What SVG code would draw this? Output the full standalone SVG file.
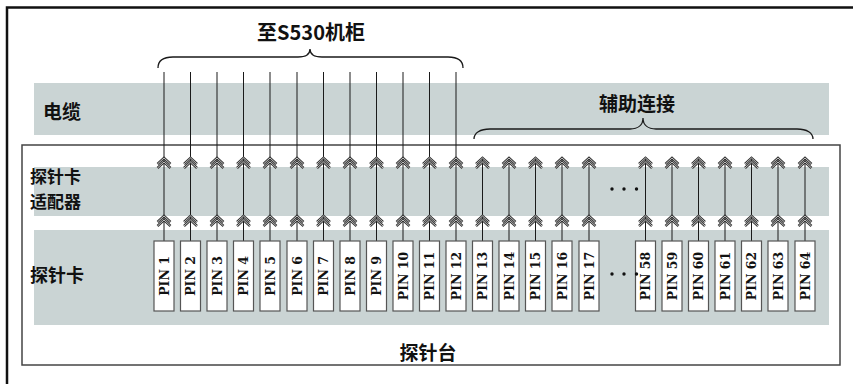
<svg xmlns="http://www.w3.org/2000/svg" xmlns:xlink="http://www.w3.org/1999/xlink" width="853" height="384" viewBox="0 0 853 384">
  <style>
    .band { fill: #cad4d4; }
    .lbl { font-family: "Noto Sans CJK SC", "Noto Sans", sans-serif; font-weight: bold; font-size: 19px; fill: #111; dominant-baseline: central; }
    .lbl2 { font-size: 18px; }
    .lbl3 { font-size: 17px; }
    .pinbox { fill: #fff; stroke: #555; stroke-width: 1.2; }
    .pintxt { font-family: "DejaVu Serif", "Liberation Serif", serif; font-weight: bold; font-size: 12.5px; fill: #111; text-anchor: middle; dominant-baseline: central; }
    .wire { stroke: #1a1a1a; stroke-width: 1; fill: none; }
    .brace { stroke: #1a1a1a; stroke-width: 1.3; fill: none; }
    .chev-o { stroke: #333; stroke-width: 2.4; fill: none; }
    .chev-i { stroke: #fff; stroke-width: 0.7; fill: none; }
    .dot { fill: #111; }
  </style>
  <defs>
    <g id="chev">
      <path class="chev-o" d="M-6.5,6 L0,0 L6.5,6 M-6.5,10 L0,4 L6.5,10"/>
      <path class="chev-i" d="M-6.5,6 L0,0 L6.5,6 M-6.5,10 L0,4 L6.5,10"/>
    </g>
  </defs>

  <!-- outer frame (partially visible) -->
  <path d="M7,384 L7,7.5 L853,7.5" fill="none" stroke="#111" stroke-width="2.5"/>

  <!-- inner frame: probe station -->
  <g id="probe-station">
    <rect x="22" y="145" width="818" height="220" fill="#fff" stroke="#444" stroke-width="1.5"/>
    <text class="lbl" x="428" y="351" text-anchor="middle">探针台</text>
  </g>

  <!-- bands -->
  <g id="cable-band">
    <rect class="band" x="34" y="83" width="795" height="52"/>
    <text class="lbl" x="43" y="110">电缆</text>
  </g>
  <g id="adapter-band">
    <rect class="band" x="34" y="167" width="795" height="49"/>
    <text class="lbl lbl3" x="30" y="175">探针卡</text>
    <text class="lbl lbl3" x="30" y="200">适配器</text>
  </g>
  <g id="card-band">
    <rect class="band" x="34" y="230" width="795" height="95"/>
    <text class="lbl lbl2" x="30" y="274">探针卡</text>
  </g>

  <!-- braces and labels -->
  <g id="to-s530">
    <path class="brace" d="M158,68 C158,61 163,57 173,57 L298,57 C306,57 310,54 310,49 C310,54 314,57 322,57 L448,57 C458,57 463,61 463,68"/>
    <text class="lbl" x="311" y="31" text-anchor="middle" style="font-size:20px">至S530机柜</text>
  </g>
  <g id="aux-conn">
    <path class="brace" d="M474,139 C474,133 480,129 490,129 L630,129 C638,129 643,125 643,118 C643,125 648,129 656,129 L797,129 C807,129 813,133 813,139"/>
    <text class="lbl" x="637" y="102" text-anchor="middle">辅助连接</text>
  </g>

  <!-- connectors -->
  <g id="connectors">
    <g class="wire">
      <path d="M164,72 V241 M190.5,72 V241 M217,72 V241 M243.5,72 V241 M270,72 V241 M297,72 V241 M323.5,72 V241 M350,72 V241 M376.5,72 V241 M403,72 V241 M429.5,72 V241 M456,72 V241"/>
      <path d="M482.5,158 V241 M509,158 V241 M535.5,158 V241 M562,158 V241 M589,158 V241 M645.5,158 V241 M672,158 V241 M698.5,158 V241 M725,158 V241 M751.5,158 V241 M778,158 V241 M805,158 V241"/>
    </g>
    <g id="chevrons-top">
      <use xlink:href="#chev" x="164" y="158"/><use xlink:href="#chev" x="190.5" y="158"/><use xlink:href="#chev" x="217" y="158"/><use xlink:href="#chev" x="243.5" y="158"/><use xlink:href="#chev" x="270" y="158"/><use xlink:href="#chev" x="297" y="158"/><use xlink:href="#chev" x="323.5" y="158"/><use xlink:href="#chev" x="350" y="158"/><use xlink:href="#chev" x="376.5" y="158"/><use xlink:href="#chev" x="403" y="158"/><use xlink:href="#chev" x="429.5" y="158"/><use xlink:href="#chev" x="456" y="158"/>
      <use xlink:href="#chev" x="482.5" y="158"/><use xlink:href="#chev" x="509" y="158"/><use xlink:href="#chev" x="535.5" y="158"/><use xlink:href="#chev" x="562" y="158"/><use xlink:href="#chev" x="589" y="158"/><use xlink:href="#chev" x="645.5" y="158"/><use xlink:href="#chev" x="672" y="158"/><use xlink:href="#chev" x="698.5" y="158"/><use xlink:href="#chev" x="725" y="158"/><use xlink:href="#chev" x="751.5" y="158"/><use xlink:href="#chev" x="778" y="158"/><use xlink:href="#chev" x="805" y="158"/>
    </g>
    <g id="chevrons-bottom">
      <use xlink:href="#chev" x="164" y="216"/><use xlink:href="#chev" x="190.5" y="216"/><use xlink:href="#chev" x="217" y="216"/><use xlink:href="#chev" x="243.5" y="216"/><use xlink:href="#chev" x="270" y="216"/><use xlink:href="#chev" x="297" y="216"/><use xlink:href="#chev" x="323.5" y="216"/><use xlink:href="#chev" x="350" y="216"/><use xlink:href="#chev" x="376.5" y="216"/><use xlink:href="#chev" x="403" y="216"/><use xlink:href="#chev" x="429.5" y="216"/><use xlink:href="#chev" x="456" y="216"/>
      <use xlink:href="#chev" x="482.5" y="216"/><use xlink:href="#chev" x="509" y="216"/><use xlink:href="#chev" x="535.5" y="216"/><use xlink:href="#chev" x="562" y="216"/><use xlink:href="#chev" x="589" y="216"/><use xlink:href="#chev" x="645.5" y="216"/><use xlink:href="#chev" x="672" y="216"/><use xlink:href="#chev" x="698.5" y="216"/><use xlink:href="#chev" x="725" y="216"/><use xlink:href="#chev" x="751.5" y="216"/><use xlink:href="#chev" x="778" y="216"/><use xlink:href="#chev" x="805" y="216"/>
    </g>
  </g>

  <!-- ellipses -->
  <g id="ellipsis-adapter">
    <circle class="dot" cx="612" cy="189" r="1.7"/><circle class="dot" cx="624" cy="189" r="1.7"/><circle class="dot" cx="636.5" cy="189" r="1.7"/>
  </g>

  <!-- pins -->
  <g id="pin-1"><rect class="pinbox" x="154" y="241" width="20" height="70"/><text class="pintxt" transform="translate(164,276) rotate(-90)">PIN 1</text></g>
  <g id="pin-2"><rect class="pinbox" x="180.5" y="241" width="20" height="70"/><text class="pintxt" transform="translate(190.5,276) rotate(-90)">PIN 2</text></g>
  <g id="pin-3"><rect class="pinbox" x="207" y="241" width="20" height="70"/><text class="pintxt" transform="translate(217,276) rotate(-90)">PIN 3</text></g>
  <g id="pin-4"><rect class="pinbox" x="233.5" y="241" width="20" height="70"/><text class="pintxt" transform="translate(243.5,276) rotate(-90)">PIN 4</text></g>
  <g id="pin-5"><rect class="pinbox" x="260" y="241" width="20" height="70"/><text class="pintxt" transform="translate(270,276) rotate(-90)">PIN 5</text></g>
  <g id="pin-6"><rect class="pinbox" x="287" y="241" width="20" height="70"/><text class="pintxt" transform="translate(297,276) rotate(-90)">PIN 6</text></g>
  <g id="pin-7"><rect class="pinbox" x="313.5" y="241" width="20" height="70"/><text class="pintxt" transform="translate(323.5,276) rotate(-90)">PIN 7</text></g>
  <g id="pin-8"><rect class="pinbox" x="340" y="241" width="20" height="70"/><text class="pintxt" transform="translate(350,276) rotate(-90)">PIN 8</text></g>
  <g id="pin-9"><rect class="pinbox" x="366.5" y="241" width="20" height="70"/><text class="pintxt" transform="translate(376.5,276) rotate(-90)">PIN 9</text></g>
  <g id="pin-10"><rect class="pinbox" x="393" y="241" width="20" height="70"/><text class="pintxt" transform="translate(403,276) rotate(-90)">PIN 10</text></g>
  <g id="pin-11"><rect class="pinbox" x="419.5" y="241" width="20" height="70"/><text class="pintxt" transform="translate(429.5,276) rotate(-90)">PIN 11</text></g>
  <g id="pin-12"><rect class="pinbox" x="446" y="241" width="20" height="70"/><text class="pintxt" transform="translate(456,276) rotate(-90)">PIN 12</text></g>
  <g id="pin-13"><rect class="pinbox" x="472.5" y="241" width="20" height="70"/><text class="pintxt" transform="translate(482.5,276) rotate(-90)">PIN 13</text></g>
  <g id="pin-14"><rect class="pinbox" x="499" y="241" width="20" height="70"/><text class="pintxt" transform="translate(509,276) rotate(-90)">PIN 14</text></g>
  <g id="pin-15"><rect class="pinbox" x="525.5" y="241" width="20" height="70"/><text class="pintxt" transform="translate(535.5,276) rotate(-90)">PIN 15</text></g>
  <g id="pin-16"><rect class="pinbox" x="552" y="241" width="20" height="70"/><text class="pintxt" transform="translate(562,276) rotate(-90)">PIN 16</text></g>
  <g id="pin-17"><rect class="pinbox" x="579" y="241" width="20" height="70"/><text class="pintxt" transform="translate(589,276) rotate(-90)">PIN 17</text></g>
  <g id="pin-58"><rect class="pinbox" x="635.5" y="241" width="20" height="70"/><text class="pintxt" transform="translate(645.5,276) rotate(-90)">PIN 58</text></g>
  <g id="pin-59"><rect class="pinbox" x="662" y="241" width="20" height="70"/><text class="pintxt" transform="translate(672,276) rotate(-90)">PIN 59</text></g>
  <g id="pin-60"><rect class="pinbox" x="688.5" y="241" width="20" height="70"/><text class="pintxt" transform="translate(698.5,276) rotate(-90)">PIN 60</text></g>
  <g id="pin-61"><rect class="pinbox" x="715" y="241" width="20" height="70"/><text class="pintxt" transform="translate(725,276) rotate(-90)">PIN 61</text></g>
  <g id="pin-62"><rect class="pinbox" x="741.5" y="241" width="20" height="70"/><text class="pintxt" transform="translate(751.5,276) rotate(-90)">PIN 62</text></g>
  <g id="pin-63"><rect class="pinbox" x="768" y="241" width="20" height="70"/><text class="pintxt" transform="translate(778,276) rotate(-90)">PIN 63</text></g>
  <g id="pin-64"><rect class="pinbox" x="795" y="241" width="20" height="70"/><text class="pintxt" transform="translate(805,276) rotate(-90)">PIN 64</text></g>

  <g id="ellipsis-pins">
    <circle class="dot" cx="612" cy="274" r="1.7"/><circle class="dot" cx="624" cy="274" r="1.7"/><circle class="dot" cx="636.5" cy="274" r="1.7"/>
  </g>
</svg>
